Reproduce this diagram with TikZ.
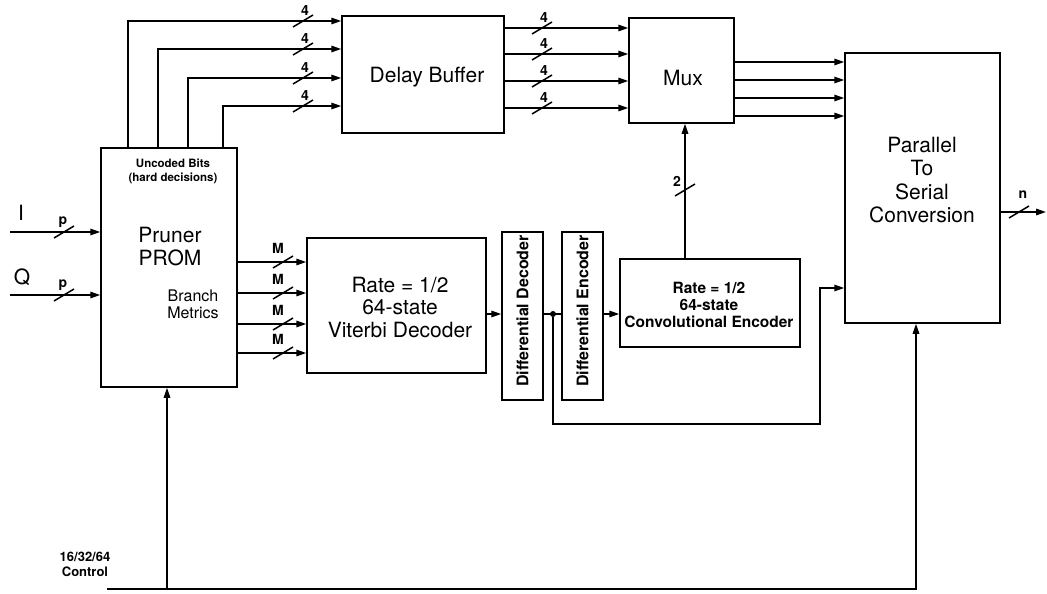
\documentclass[tikz,border=0pt]{standalone}
\usepackage{fontspec}
\setmainfont{TeX Gyre Heros}
\usetikzlibrary{arrows.meta,calc}
\begin{document}
\begin{tikzpicture}[x=1pt,y=-1pt,
  box/.style={draw, line width=1.5pt, inner sep=0pt},
  conn/.style={line width=1.5pt},
  arr/.style={conn, -{Triangle[length=10pt,width=6.5pt]}},
  slashmark/.style={line width=1.5pt},
  lbl/.style={font=\bfseries\fontsize{14}{14}\selectfont, inner sep=0pt},
  bigt/.style={font=\fontsize{21}{23}\selectfont, align=center, inner sep=0pt},
  midt/.style={font=\fontsize{16}{17}\selectfont, align=center, inner sep=0pt},
  smallb/.style={font=\bfseries\fontsize{11.5}{14}\selectfont, align=center, inner sep=0pt},
]
\useasboundingbox (0,0) rectangle (1047,594);

% boxes
\node[box, minimum width=136pt, minimum height=239pt] (pr) at (169,267.5) {};
\node[box, minimum width=162pt, minimum height=117pt] (dl) at (423,74.5) {};
\node[box, minimum width=105pt, minimum height=105pt] (mx) at (681.5,70.5) {};
\node[box, minimum width=155pt, minimum height=270pt] (ps) at (922.5,188) {};
\node[box, minimum width=179pt, minimum height=135pt] (vit) at (396.5,305.5) {};
\node[box, minimum width=41pt, minimum height=168pt] (dd) at (522.5,316) {};
\node[box, minimum width=41pt, minimum height=168pt] (de) at (582.5,316) {};
\node[box, minimum width=180pt, minimum height=88pt] (conv) at (710,303) {};

% texts
\node[bigt] (prt) at (170,246.5) {Pruner\\PROM};
\node[smallb] (unc) at (173,171) {Uncoded Bits\\(hard decisions)};
\node[midt] (bm) at (193,304.5) {Branch\\Metrics};
\node[bigt] (dlt) at (427,77) {Delay Buffer};
\node[bigt] (mxt) at (683,78) {Mux};
\node[bigt, font=\fontsize{21}{22.5}\selectfont] (vitt) at (400,307.5) {Rate = 1/2\\64-state\\Viterbi Decoder};
\node[midt, font=\bfseries\fontsize{15.5}{17}\selectfont] (convt) at (709,305) {Rate = 1/2\\64-state\\Convolutional Encoder};
\node[bigt, font=\fontsize{21}{23.3}\selectfont] (pst) at (922,180) {Parallel\\To\\Serial\\Conversion};
\node[midt, font=\bfseries\fontsize{16}{17}\selectfont, rotate=90] (ddt) at (522.5,311) {Differential Decoder};
\node[midt, font=\bfseries\fontsize{16}{17}\selectfont, rotate=90] (det) at (582.5,311) {Differential Encoder};
\node[bigt] (it) at (21,213) {I};
\node[bigt] (qt) at (22,277) {Q};
\node[smallb, font=\bfseries\fontsize{13}{15.5}\selectfont] (ctlt) at (85,564.5) {16/32/64\\Control};

% uncoded bits to delay buffer
\foreach \x/\y [count=\i] in {128/21, 158/49, 188/78, 223/106} {
  \coordinate (t\i) at (\x,\y);
  \draw[arr] (t\i |- pr.north) -- (t\i) -- (t\i -| dl.west);
  \draw[slashmark] (303,\y) ++(-10,6) -- ++(20,-12);
  \node[lbl] (ua\i) at (305,\y-10) {4};
}

% delay buffer to mux
\foreach \y [count=\i] in {28,54,81,108} {
  \coordinate (d\i) at (0,\y);
  \draw[arr] (d\i -| dl.east) -- (d\i -| mx.west);
  \draw[slashmark] (542,\y) ++(-10,6) -- ++(20,-12);
  \node[lbl] (da\i) at (544,\y-10) {4};
}

% mux to parallel/serial
\foreach \y [count=\i] in {62,80,98,116} {
  \coordinate (m\i) at (0,\y);
  \draw[arr] (m\i -| mx.east) -- (m\i -| ps.west);
}

% branch metrics to viterbi
\foreach \y [count=\i] in {262,293,324,353} {
  \coordinate (b\i) at (0,\y);
  \draw[arr] (b\i -| pr.east) -- (b\i -| vit.west);
  \draw[slashmark] (283,\y) ++(-10,6) -- ++(20,-12);
  \node[lbl] (ba\i) at (278,\y-14) {M};
}

% I and Q inputs
\coordinate (iin) at (10,232);
\coordinate (qin) at (10,295);
\draw[arr] (iin) -- (iin -| pr.west);
\draw[arr] (qin) -- (qin -| pr.west);
\draw[slashmark] (64,232) ++(-10,6) -- ++(20,-12);
\draw[slashmark] (64,295) ++(-10,6) -- ++(20,-12);
\node[lbl] (ip) at (63,222) {p};
\node[lbl] (qp) at (63,285) {p};

% decoder chain
\node[circle, fill, inner sep=0pt, minimum size=6pt] (dot) at (553,314) {};
\draw[arr] (vit.east |- dot) -- (dd.west |- dot);
\draw[conn] (dd.east |- dot) -- (de.west |- dot);
\draw[arr] (de.east |- dot) -- (conv.west |- dot);

% feedback to parallel/serial
\coordinate (fb1) at (820,424);
\coordinate (fb2) at (820,288);
\draw[arr] (dot) -- (dot |- fb1) -- (fb1) -- (fb2) -- (fb2 -| ps.west);

% conv encoder to mux
\coordinate (cm) at (685,190);
\draw[arr] (cm |- conv.north) -- (cm |- mx.south);
\draw[slashmark] (cm) ++(-10,6) -- ++(20,-12);
\node[lbl] (cma) at (677,181) {2};

% output
\coordinate (out) at (1046,212);
\draw[arr] (out -| ps.east) -- (out);
\draw[slashmark] (1019,212) ++(-10,6) -- ++(20,-12);
\node[lbl] (outn) at (1023,195) {n};

% control
\coordinate (ctl) at (107,589);
\coordinate (cp) at (167,589);
\coordinate (cs) at (916,589);
\draw[arr] (ctl) -- (cs) -- (cs |- ps.south);
\draw[arr] (cp) -- (cp |- pr.south);
\end{tikzpicture}
\end{document}
